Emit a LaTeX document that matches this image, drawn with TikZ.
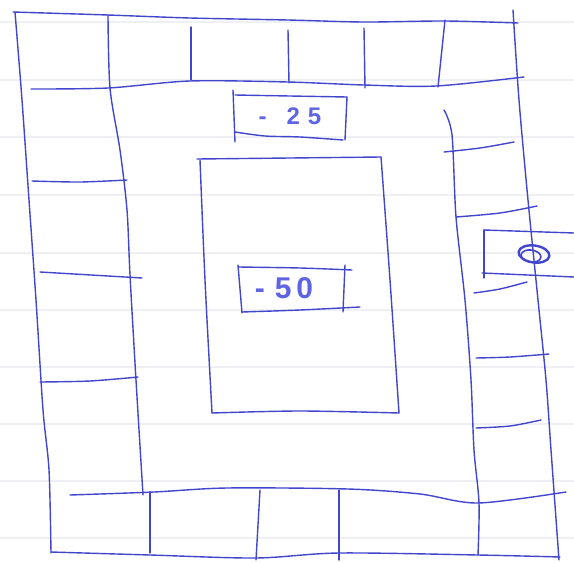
\documentclass[tikz,border=0pt]{standalone}
\usepackage{fontspec}
\setmainfont{Liberation Sans}
\definecolor{pen}{RGB}{66,70,205}
\definecolor{ink}{RGB}{95,100,228}
\definecolor{paper}{RGB}{238,240,244}
\begin{document}
\begin{tikzpicture}[x=1pt,y=-1pt,line cap=round,line join=round,
  sk/.style={draw=pen,line width=1.4pt},
  rule/.style={draw=paper,line width=1.2pt},
  lbl/.style={text=ink,inner sep=0pt}]
\useasboundingbox (0,0) rectangle (574,563);
\fill[white] (0,0) rectangle (574,563);
\foreach \y in {22,80,137,195,253,310,367,424,481,538}
  \draw[rule] (0,\y) -- (574,\y);
% outer frame
\draw[sk] plot[smooth] coordinates {(13,12) (108,15) (190,18) (288,20) (364,22) (445,21) (518,23)};
\draw[sk] plot[smooth] coordinates {(15,12) (22,100) (29,200) (36,300) (43,410) (49,470) (51,553)};
\draw[sk] plot[smooth] coordinates {(51,552) (150,555) (256,558) (339,553) (478,555) (560,557)};
\draw[sk] plot[smooth] coordinates {(513,10) (519,100) (528,200) (538,300) (546,380) (551,450) (559,560)};
% inner edge of the track
\draw[sk] plot[smooth] coordinates {(31,89) (108,88) (190,81) (288,82) (364,85) (436,86) (524,77)};
\draw[sk] plot[smooth] coordinates {(108,15) (110,88) (120,150) (127,210) (130,275) (136,380) (143,495)};
\draw[sk] plot[smooth] coordinates {(70,495) (154,492) (227,488) (348,489) (420,494) (478,503) (566,492)};
\draw[sk] (445,20) -- (438,87);
\draw[sk] plot[smooth] coordinates {(444,110) (452,135) (456,217) (465,300) (471,380) (474,450) (479,503) (478,555)};
% top dividers
\draw[sk] (191,27) -- (191,80);
\draw[sk] (288,30) -- (289,83);
\draw[sk] (364,28) -- (365,88);
% bottom dividers
\draw[sk] (150,492) -- (150,553);
\draw[sk] (260,490) -- (256,560);
\draw[sk] (339,490) -- (339,560);
% left dividers
\draw[sk] plot[smooth] coordinates {(32,181) (80,182) (127,180)};
\draw[sk] (40,272) -- (142,278);
\draw[sk] plot[smooth] coordinates {(40,382) (90,381) (138,377)};
% right dividers
\draw[sk] plot[smooth] coordinates {(444,152) (480,148) (514,142)};
\draw[sk] plot[smooth] coordinates {(456,217) (500,213) (537,206)};
\draw[sk] plot[smooth] coordinates {(474,293) (500,289) (527,282)};
\draw[sk] plot[smooth] coordinates {(476,358) (510,357) (549,354)};
\draw[sk] plot[smooth] coordinates {(476,428) (510,426) (541,420)};
% side box with ring
\draw[sk] (484,230) -- (484,278);
\draw[sk] (484,230) -- (574,233);
\draw[sk] (482,273) -- (574,277);
\draw[sk,line width=2.4pt,rotate around={-8:(534,254)}] (534,254) ellipse [x radius=15.5pt,y radius=8.5pt];
\draw[sk,line width=1.6pt,rotate around={-8:(531,256)}] (531,256) ellipse [x radius=10pt,y radius=6pt];
% central rectangle
\draw[sk] plot[smooth] coordinates {(197,159) (290,158) (381,157)};
\draw[sk] plot[smooth] coordinates {(200,160) (205,280) (212,413)};
\draw[sk] plot[smooth] coordinates {(381,157) (390,280) (399,413)};
\draw[sk] plot[smooth] coordinates {(212,413) (300,411) (399,413)};
% -25 box
\draw[sk] (233,90) -- (235,142);
\draw[sk] plot[smooth] coordinates {(235,95) (290,96) (347,97)};
\draw[sk] (347,97) -- (345,140);
\draw[sk] plot[smooth] coordinates {(235,132) (265,136) (300,137) (343,140)};
\node[lbl,font=\fontsize{24}{24}\selectfont\bfseries] (t25) at (290,116) {-\hspace{20pt}2\hspace{8pt}5};
% -50 box
\draw[sk] (238,265) -- (242,313);
\draw[sk] plot[smooth] coordinates {(238,267) (300,268) (352,270)};
\draw[sk] (345,265) -- (343,312);
\draw[sk] plot[smooth] coordinates {(242,312) (300,310) (360,307)};
\node[lbl,font=\fontsize{30}{30}\selectfont\bfseries] (t50) at (284,288) {-\hspace{10pt}5\hspace{5pt}0};
\end{tikzpicture}
\end{document}
